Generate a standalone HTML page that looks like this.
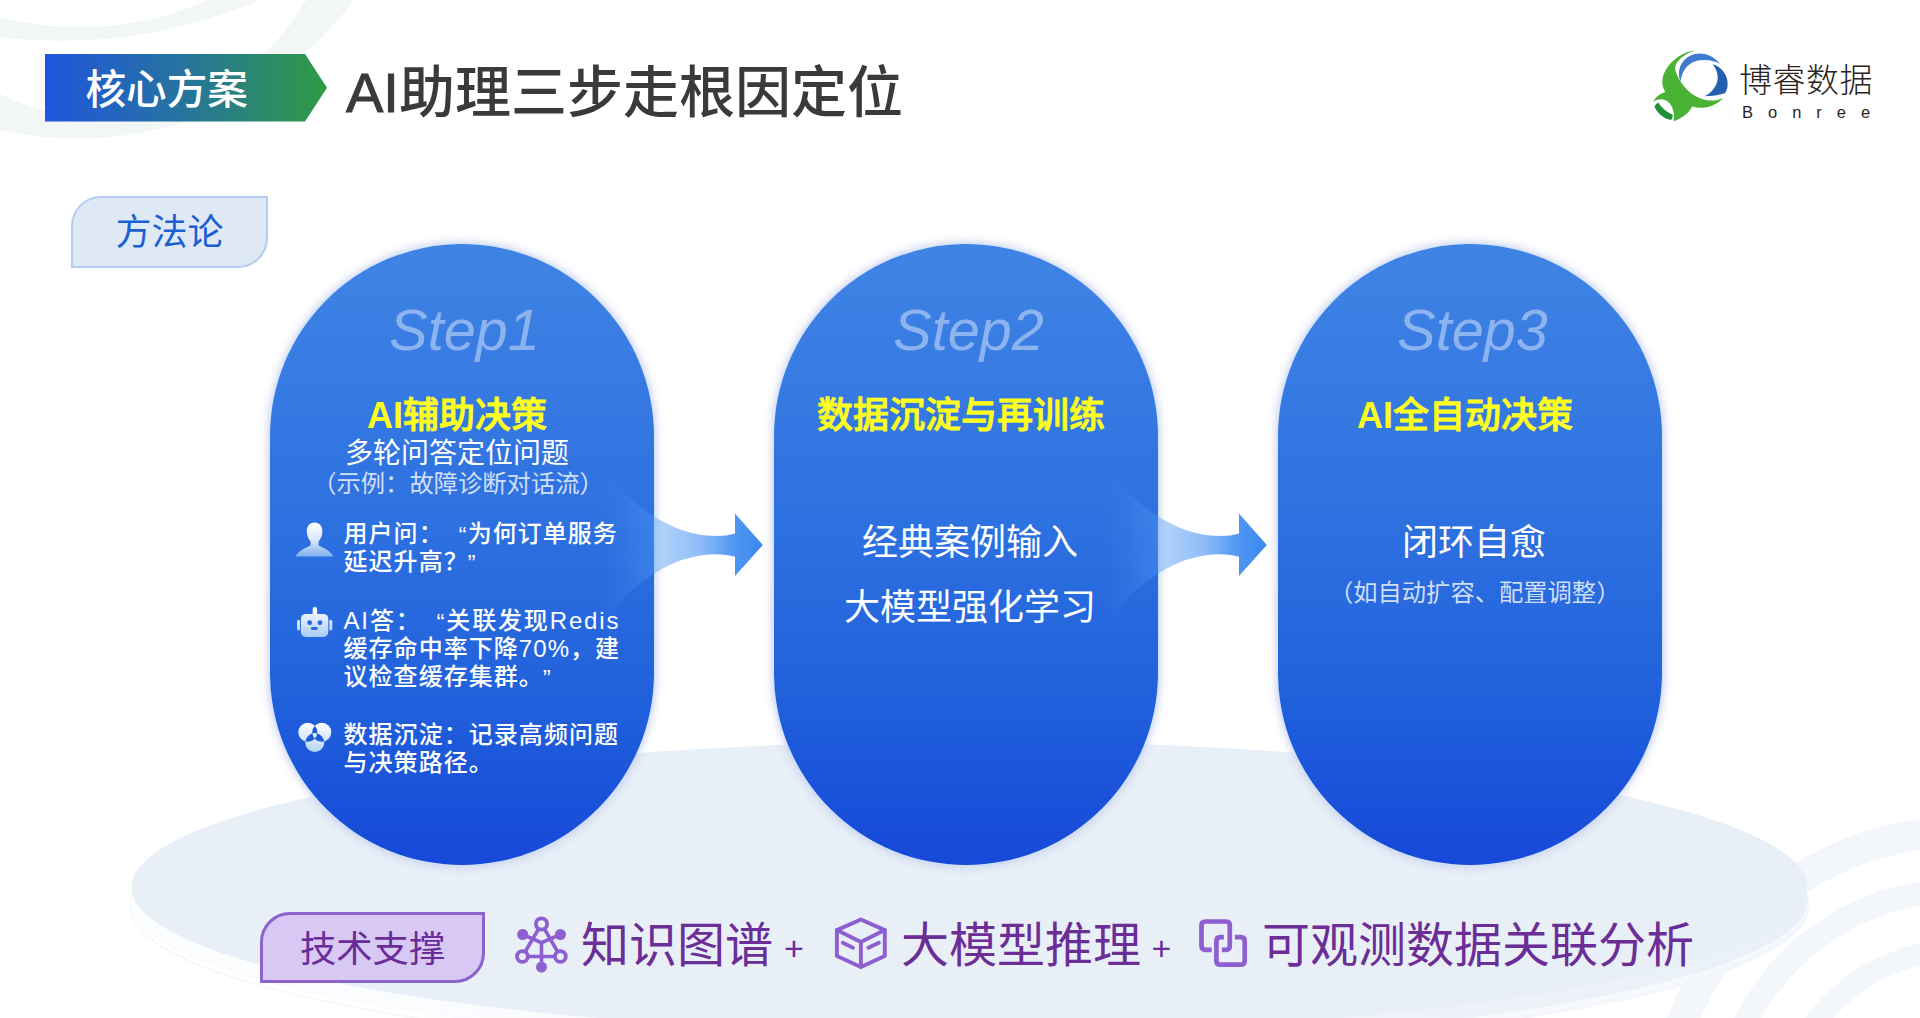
<!DOCTYPE html>
<html lang="zh-CN">
<head>
<meta charset="utf-8">
<title>AI助理三步走根因定位</title>
<style>
*{margin:0;padding:0;box-sizing:border-box;}
html,body{width:1920px;height:1018px;overflow:hidden;background:#fff;}
body{text-spacing-trim:space-all;font-family:"Liberation Sans","Noto Sans CJK SC",sans-serif;position:relative;}
#stage{position:absolute;left:0;top:0;width:1920px;height:1018px;overflow:hidden;background:#fff;}
.abs{position:absolute;white-space:nowrap;}
#bg{position:absolute;left:0;top:0;}
.t{position:absolute;white-space:nowrap;line-height:1;}
.c{transform:translateX(-50%);}
.pill{position:absolute;top:244px;width:384px;height:621px;border-radius:192px;
  background:linear-gradient(180deg,#3f84e3 0%,#3c80e4 9%,#2d70e0 46%,#2161dc 73%,#1951d9 89.5%,#1749d8 100%);
  box-shadow:0 0 0 1px rgba(205,228,255,0.9),0 0 8px 2px rgba(190,200,235,0.85);}
.step{font-style:italic;font-size:57.5px;color:rgba(255,255,255,0.42);font-weight:400;}
.yl{color:#ffff1e;font-weight:500;font-size:36px;-webkit-text-stroke:0.8px #ffff1e;}
.yl b{font-weight:700;-webkit-text-stroke:0;}
.w36{color:#fff;font-size:36px;font-weight:400;}
.note{color:rgba(255,255,255,0.78);font-size:24.3px;font-weight:400;}
.li{position:absolute;left:345px;width:274px;color:#fff;font-size:24px;letter-spacing:1.05px;line-height:28.3px;font-weight:500;white-space:nowrap;}
.ql,.qr{position:relative;top:2px;}
.ql{padding-left:0.62em;}
.qr{padding-right:0.62em;margin-left:-0.05em;}
.ln{display:block;height:28px;line-height:28px;white-space:nowrap;}
.pur{color:#6b2d96;font-size:48px;font-weight:400;}
</style>
</head>
<body>
<div id="stage">
<svg id="bg" width="1920" height="1018" viewBox="0 0 1920 1018">
  <!-- top-left faint arcs -->
  <g>
    <circle cx="76.7" cy="-208" r="346.7" fill="#f2f7f6"/>
    <circle cx="103.2" cy="-115" r="233.2" fill="#ffffff"/>
    <circle cx="61.7" cy="-461.6" r="502.4" fill="#f2f7f6"/>
    <circle cx="79.5" cy="-290.8" r="317.9" fill="#ffffff"/>
  </g>
  <!-- bottom-right faint arcs -->
  <g fill="none" stroke="#f3f6fa">
    <circle cx="1960" cy="1130" r="298" stroke-width="31"/>
    <circle cx="1960" cy="1130" r="240" stroke-width="24"/>
    <circle cx="1960" cy="1130" r="180" stroke-width="22"/>
  </g>
</svg>

<svg class="abs" style="left:45px;top:54px" width="284" height="68" viewBox="0 0 284 68">
  <defs><linearGradient id="hg" x1="0" y1="0" x2="1" y2="0">
    <stop offset="0" stop-color="#1f55de"/><stop offset="0.5" stop-color="#27749c"/><stop offset="1" stop-color="#2f9b43"/></linearGradient></defs>
  <polygon points="0,0 260,0 282,33.7 260,67.4 0,67.4" fill="url(#hg)"/>
</svg>
<div class="t" id="tag" style="left:85.5px;top:70px;font-size:40.6px;color:#fff;font-weight:500;">核心方案</div>
<div class="t" id="title" style="left:346px;top:65px;font-size:56px;color:#3a3a3a;font-weight:500;"><span style="-webkit-text-stroke:1px #3a3a3a">AI</span>助理三步走根因定位</div>
<!-- logo -->
<svg class="abs" id="logo" style="left:1640px;top:40px" width="120" height="90" viewBox="0 0 1357 1018">
  <path d="M620,115 C510,130 395,195 320,295 C240,400 235,505 285,588 C225,605 175,645 150,700 C195,662 270,655 320,700 C370,745 392,820 380,920 C470,890 560,820 590,752 C700,785 850,760 940,655 C850,700 720,695 610,625 C500,550 420,430 398,330 C390,260 470,170 620,115 Z" fill="#4ab235"/>
  <path d="M207,708 C185,722 170,740 165,755 C190,820 265,890 350,905 C365,890 372,870 368,845 C300,815 240,765 207,708 Z" fill="#1f9038"/>
  <path d="M458,470 C415,360 450,240 560,180 C680,120 820,160 905,268 C820,225 690,205 590,255 C510,300 470,380 458,470 Z" fill="#3f7ccd"/>
  <path d="M820,275 C900,295 960,355 985,440 C1000,510 985,570 960,602 C890,625 810,635 728,635 C810,600 870,520 878,440 C882,380 860,320 820,275 Z" fill="#2560b0"/>
</svg>
<div class="t" id="lg1" style="left:1739px;top:64px;font-size:33px;color:#2b2321;font-weight:300;letter-spacing:0.5px;">博睿数据</div>
<div class="t" id="lg2" style="left:1742px;top:104px;font-size:16.5px;color:#2b2321;font-weight:400;letter-spacing:15px;">Bonree</div>
<!-- method badge -->
<div class="abs" style="left:71px;top:196px;width:197px;height:72px;background:#dfe9f6;border:2.5px solid #b4cdee;border-radius:30px 0 30px 0;"></div>
<div class="t" id="ffl" style="left:115.5px;top:214.5px;font-size:36px;color:#1c5fd0;font-weight:400;">方法论</div>

<svg class="abs" style="left:0;top:0" width="1920" height="1018" viewBox="0 0 1920 1018">
  <defs>
    <linearGradient id="rimg" gradientUnits="userSpaceOnUse" x1="131" y1="0" x2="1808" y2="0">
      <stop offset="0" stop-color="#fcfdff"/><stop offset="0.45" stop-color="#f8fafd"/><stop offset="0.75" stop-color="#eef3f9"/><stop offset="1" stop-color="#e9f0f7"/></linearGradient>
    <linearGradient id="rimg2" gradientUnits="userSpaceOnUse" x1="131" y1="0" x2="1808" y2="0">
      <stop offset="0" stop-color="#ffffff"/><stop offset="0.6" stop-color="#fbfcfe"/><stop offset="1" stop-color="#f3f6fb"/></linearGradient>
  </defs>
  <ellipse cx="969.500" cy="906" rx="839.500" ry="149" fill="url(#rimg2)" stroke="#f3f5fa" stroke-width="1.200"/>
  <ellipse cx="969.500" cy="900" rx="839" ry="148" fill="url(#rimg)" stroke="#f8fafd" stroke-width="1.500"/>
  <ellipse cx="969.500" cy="887.200" rx="838" ry="146" fill="#e8eff7"/>
</svg>

<div class="pill" style="left:270px;"></div>
<div class="pill" style="left:774px;"></div>
<div class="pill" style="left:1278px;"></div>

<!-- arrows -->
<svg class="abs" style="left:0;top:0" width="1920" height="1018" viewBox="0 0 1920 1018">
  <defs>
    <linearGradient id="ag1" gradientUnits="userSpaceOnUse" x1="600" y1="0" x2="763" y2="0">
      <stop offset="0" stop-color="#5aa2f6" stop-opacity="0"/><stop offset="0.15" stop-color="#5aa2f6" stop-opacity="0.12"/><stop offset="0.33" stop-color="#4f9af5" stop-opacity="0.4"/><stop offset="0.6" stop-color="#4792f3" stop-opacity="0.6"/><stop offset="0.83" stop-color="#428df1" stop-opacity="0.93"/><stop offset="1" stop-color="#3b88ef" stop-opacity="1"/></linearGradient>
    
  </defs>
  <path d="M606,472 C640,515 680,536 715,536 Q727,536 735,533.5 L735,513.4 L762.8,545 L735,576 L735,556.8 Q727,554.3 715,554.3 C680,554.3 640,575 606,618 Z" fill="url(#ag1)"/>
  <path d="M606,472 C640,515 680,536 715,536 Q727,536 735,533.5 L735,513.4 L762.8,545 L735,576 L735,556.8 Q727,554.3 715,554.3 C680,554.3 640,575 606,618 Z" fill="url(#ag1)" transform="translate(504,0)"/>
</svg>

<!-- pill 1 text -->
<div class="t c step" id="s1" style="left:464.5px;top:302px;">Step1</div>
<div class="t c yl" id="y1" style="left:457px;top:397.5px;"><b>AI</b>辅助决策</div>
<div class="t c" id="p1a" style="left:457px;top:440px;font-size:28px;color:#fff;">多轮问答定位问题</div>
<div class="t c note" id="p1b" style="left:458px;top:472px;">（示例：故障诊断对话流）</div>
<div class="li" id="li1" style="left:343.5px;top:520px;"><div class="ln">用户问：<span class="ql">“</span>为何订单服务</div><div class="ln">延迟升高？<span class="qr">”</span></div></div>
<div class="li" id="li2" style="left:343.5px;top:607.4px;"><div class="ln" style="letter-spacing:1.85px">AI答：<span class="ql">“</span>关联发现Redis</div><div class="ln">缓存命中率下降70%，建</div><div class="ln">议检查缓存集群。<span class="qr">”</span></div></div>
<div class="li" id="li3" style="left:343.5px;top:721px;"><div class="ln">数据沉淀：记录高频问题</div><div class="ln">与决策路径。</div></div>
<!-- icons -->
<svg class="abs" style="left:285px;top:510px" width="60" height="260" viewBox="285 510 60 260">
  <defs>
    <linearGradient id="ig1" gradientUnits="userSpaceOnUse" x1="0" y1="522" x2="0" y2="557"><stop offset="0" stop-color="#ffffff"/><stop offset="0.55" stop-color="#d6e6fb"/><stop offset="1" stop-color="#86b6f1" stop-opacity="0.9"/></linearGradient>
    <linearGradient id="ig2" gradientUnits="userSpaceOnUse" x1="0" y1="607" x2="0" y2="637"><stop offset="0" stop-color="#ffffff"/><stop offset="1" stop-color="#a9cbf5"/></linearGradient>
    <linearGradient id="ig3" gradientUnits="userSpaceOnUse" x1="0" y1="722" x2="0" y2="753"><stop offset="0" stop-color="#ffffff"/><stop offset="1" stop-color="#b4d2f6"/></linearGradient>
  </defs>
  <!-- user -->
  <path d="M314.600,522.600 C319.600,522.600 322.400,526.400 322.400,531.200 C322.400,535.800 320.400,539.400 318.600,541.600 L318.600,545.400 C323,547.400 329.500,550.400 332.700,555 L332.700,556.600 L296.200,556.600 L296.200,555 C299.500,550.400 306,547.400 310.600,545.400 L310.600,541.600 C308.800,539.400 306.800,535.800 306.800,531.200 C306.800,526.400 309.600,522.600 314.600,522.600 Z" fill="url(#ig1)"/>
  <!-- robot -->
  <rect x="312.700" y="607" width="4.400" height="9" rx="2.200" fill="#ffffff"/>
  <rect x="300.900" y="613.900" width="27.400" height="23" rx="5" fill="url(#ig2)"/>
  <rect x="297" y="619.700" width="3" height="10.700" rx="1.500" fill="url(#ig2)"/>
  <rect x="329.300" y="619.700" width="3" height="10.700" rx="1.500" fill="url(#ig2)"/>
  <circle cx="309.700" cy="622.700" r="2.400" fill="#2a68de"/><circle cx="320" cy="622.700" r="2.400" fill="#2a68de"/>
  <rect x="310.900" y="627.100" width="6.800" height="2.900" rx="1.450" fill="#2a68de"/>
  <!-- data -->
  <path fill-rule="evenodd" fill="url(#ig3)" d="M298.30,732.20 a9.5,9.5 0 1,0 19.0,0 a9.5,9.5 0 1,0 -19.0,0 Z M312.30,732.20 a9.5,9.5 0 1,0 19.0,0 a9.5,9.5 0 1,0 -19.0,0 Z M305.30,742.60 a9.5,9.5 0 1,0 19.0,0 a9.5,9.5 0 1,0 -19.0,0 Z"/>
</svg>

<!-- pill 2 text -->
<div class="t c step" id="s2" style="left:968.5px;top:302px;">Step2</div>
<div class="t c yl" id="y2" style="left:961px;top:397.5px;">数据沉淀与再训练</div>
<div class="t c w36" id="p2a" style="left:970px;top:525px;">经典案例输入</div>
<div class="t c w36" id="p2b" style="left:970px;top:589.5px;">大模型强化学习</div>

<!-- pill 3 text -->
<div class="t c step" id="s3" style="left:1472.5px;top:302px;">Step3</div>
<div class="t c yl" id="y3" style="left:1465px;top:397.5px;"><b>AI</b>全自动决策</div>
<div class="t c w36" id="p3a" style="left:1474px;top:525px;">闭环自愈</div>
<div class="t c note" id="p3b" style="left:1474.7px;top:581px;">（如自动扩容、配置调整）</div>

<div class="abs" style="left:260px;top:911.7px;width:225px;height:71.6px;background:#d8c9f4;border:3px solid #8e62cd;border-radius:30px 0 30px 0;"></div>
<div class="t" id="jszc" style="left:300px;top:931.5px;font-size:36.3px;color:#6a2c98;font-weight:400;">技术支撑</div>

<svg class="abs" id="ic1" style="left:505px;top:905px" width="80" height="80" viewBox="0 0 80 80" fill="none" stroke="#8d5fd0" stroke-width="3.600" stroke-linecap="round">
  <path d="M36.500,18.900 L17.400,51.500 L55.400,51.500 Z" stroke-linejoin="round"/>
  <path d="M17.700,29.500 L36.500,37.700 L55.400,29.500 M36.500,37.700 L36.500,62"/>
  <circle cx="36.500" cy="18.900" r="5.600" fill="#e8eff7" stroke-width="3.800"/>
  <circle cx="17.400" cy="51.500" r="5.400" fill="#e8eff7" stroke-width="3.800"/>
  <circle cx="55.400" cy="51.500" r="5.400" fill="#e8eff7" stroke-width="3.800"/>
  <circle cx="17.700" cy="29.500" r="5.500" fill="#8d5fd0" stroke="none"/>
  <circle cx="55.400" cy="29.500" r="5.500" fill="#8d5fd0" stroke="none"/>
  <circle cx="36.500" cy="62.100" r="5.500" fill="#8d5fd0" stroke="none"/>
</svg>
<div class="t pur" id="b1" style="left:581px;top:922px;">知识图谱</div>
<div class="t" id="pl1" style="left:784px;top:931px;font-size:34px;color:#6b2d96;">+</div>

<svg class="abs" id="ic2" style="left:820px;top:905px" width="80" height="80" viewBox="0 0 80 80" fill="none" stroke="#8d5fd0" stroke-width="3.900" stroke-linejoin="round" stroke-linecap="round">
  <path d="M40.900,14.500 L64.800,25.100 L64.800,51.100 L40.900,62.100 L16.900,51.100 L16.900,25.100 Z"/>
  <path d="M16.900,25.100 L40.900,36.900 L64.800,25.100 M40.900,36.900 L40.900,62.100"/>
  <path d="M22.800,37.700 L33,42.800 M48.300,42.800 L58.900,37.700" stroke-width="3.800"/>
</svg>
<div class="t pur" id="b2" style="left:901px;top:922px;">大模型推理</div>
<div class="t" id="pl2" style="left:1151.500px;top:931px;font-size:34px;color:#6b2d96;">+</div>

<svg class="abs" id="ic3" style="left:1185px;top:905px" width="80" height="80" viewBox="0 0 80 80" fill="none" stroke="#8d5fd0" stroke-width="4.700" stroke-linejoin="round" stroke-linecap="butt">
  <path d="M26.700,44.800 L20.500,44.800 Q16.500,44.800 16.500,40.800 L16.500,20.500 Q16.500,16.500 20.500,16.500 L40.800,16.500 Q44.800,16.500 44.800,20.500 L44.800,40.800 Q44.800,44.800 40.800,44.800 L36.900,44.800"/>
  <path d="M38.900,32.200 L35.400,32.200 Q31.400,32.200 31.400,36.200 L31.400,55.700 Q31.400,59.700 35.400,59.700 L55.700,59.700 Q59.700,59.700 59.700,55.700 L59.700,36.200 Q59.700,32.200 55.700,32.200 L49.900,32.200"/>
</svg>
<div class="t pur" id="b3" style="left:1262px;top:922px;">可观测数据关联分析</div>

</div>
</body>
</html>
